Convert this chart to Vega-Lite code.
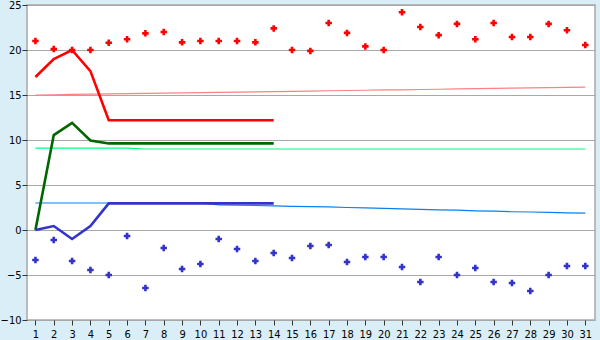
{
  "$schema": "https://vega.github.io/schema/vega-lite/v6.json",
  "width": 568,
  "height": 315,
  "autosize": {"type": "none"},
  "padding": {"left": 27, "top": 5, "right": 5, "bottom": 20},
  "background": "#d9eef6",
  "config": {
    "view": {"stroke": "#a8a8a8", "strokeWidth": 1.5, "fill": "white"},
    "axis": {"labelFont": "DejaVu Sans Condensed, Liberation Sans", "labelFontSize": 11, "labelColor": "#000000", "tickColor": "#333333", "tickSize": 5, "domain": false, "title": null}
  },
  "datasets": {
    "d": [
      {"d":1,"s":"hi","v":21},{"d":2,"s":"hi","v":20.1},{"d":3,"s":"hi","v":20},{"d":4,"s":"hi","v":20},{"d":5,"s":"hi","v":20.8},{"d":6,"s":"hi","v":21.2},{"d":7,"s":"hi","v":21.85},{"d":8,"s":"hi","v":22},{"d":9,"s":"hi","v":20.85},{"d":10,"s":"hi","v":21},{"d":11,"s":"hi","v":21},{"d":12,"s":"hi","v":21},{"d":13,"s":"hi","v":20.85},{"d":14,"s":"hi","v":22.4},{"d":15,"s":"hi","v":20},{"d":16,"s":"hi","v":19.9},{"d":17,"s":"hi","v":23},{"d":18,"s":"hi","v":21.9},{"d":19,"s":"hi","v":20.4},{"d":20,"s":"hi","v":20},{"d":21,"s":"hi","v":24.2},{"d":22,"s":"hi","v":22.55},{"d":23,"s":"hi","v":21.65},{"d":24,"s":"hi","v":22.9},{"d":25,"s":"hi","v":21.2},{"d":26,"s":"hi","v":23},{"d":27,"s":"hi","v":21.45},{"d":28,"s":"hi","v":21.45},{"d":29,"s":"hi","v":22.9},{"d":30,"s":"hi","v":22.2},{"d":31,"s":"hi","v":20.55},
      {"d":1,"s":"lo","v":-3.33},{"d":2,"s":"lo","v":-1.11},{"d":3,"s":"lo","v":-3.44},{"d":4,"s":"lo","v":-4.44},{"d":5,"s":"lo","v":-5},{"d":6,"s":"lo","v":-0.67},{"d":7,"s":"lo","v":-6.44},{"d":8,"s":"lo","v":-2},{"d":9,"s":"lo","v":-4.33},{"d":10,"s":"lo","v":-3.78},{"d":11,"s":"lo","v":-1},{"d":12,"s":"lo","v":-2.11},{"d":13,"s":"lo","v":-3.44},{"d":14,"s":"lo","v":-2.56},{"d":15,"s":"lo","v":-3.11},{"d":16,"s":"lo","v":-1.78},{"d":17,"s":"lo","v":-1.67},{"d":18,"s":"lo","v":-3.56},{"d":19,"s":"lo","v":-3},{"d":20,"s":"lo","v":-3},{"d":21,"s":"lo","v":-4.11},{"d":22,"s":"lo","v":-5.78},{"d":23,"s":"lo","v":-3},{"d":24,"s":"lo","v":-5},{"d":25,"s":"lo","v":-4.22},{"d":26,"s":"lo","v":-5.78},{"d":27,"s":"lo","v":-5.89},{"d":28,"s":"lo","v":-6.78},{"d":29,"s":"lo","v":-5},{"d":30,"s":"lo","v":-4},{"d":31,"s":"lo","v":-4},
      {"d":1,"s":"R","v":17},{"d":2,"s":"R","v":19},{"d":3,"s":"R","v":20},{"d":4,"s":"R","v":17.65},{"d":5,"s":"R","v":12.2},{"d":6,"s":"R","v":12.2},{"d":7,"s":"R","v":12.2},{"d":8,"s":"R","v":12.2},{"d":9,"s":"R","v":12.2},{"d":10,"s":"R","v":12.2},{"d":11,"s":"R","v":12.2},{"d":12,"s":"R","v":12.2},{"d":13,"s":"R","v":12.2},{"d":14,"s":"R","v":12.2},
      {"d":1,"s":"G","v":0},{"d":2,"s":"G","v":10.55},{"d":3,"s":"G","v":11.9},{"d":4,"s":"G","v":9.95},{"d":5,"s":"G","v":9.62},{"d":6,"s":"G","v":9.62},{"d":7,"s":"G","v":9.62},{"d":8,"s":"G","v":9.62},{"d":9,"s":"G","v":9.62},{"d":10,"s":"G","v":9.62},{"d":11,"s":"G","v":9.62},{"d":12,"s":"G","v":9.62},{"d":13,"s":"G","v":9.62},{"d":14,"s":"G","v":9.62},
      {"d":1,"s":"B","v":0},{"d":2,"s":"B","v":0.44},{"d":3,"s":"B","v":-1},{"d":4,"s":"B","v":0.44},{"d":5,"s":"B","v":2.96},{"d":6,"s":"B","v":2.96},{"d":7,"s":"B","v":2.96},{"d":8,"s":"B","v":2.96},{"d":9,"s":"B","v":2.96},{"d":10,"s":"B","v":2.96},{"d":11,"s":"B","v":2.96},{"d":12,"s":"B","v":2.96},{"d":13,"s":"B","v":2.96},{"d":14,"s":"B","v":2.96},
      {"d":1,"s":"tR","v":15},{"d":2,"s":"tR","v":15.03},{"d":3,"s":"tR","v":15.07},{"d":4,"s":"tR","v":15.1},{"d":5,"s":"tR","v":15.12},{"d":6,"s":"tR","v":15.15},{"d":7,"s":"tR","v":15.18},{"d":8,"s":"tR","v":15.21},{"d":9,"s":"tR","v":15.24},{"d":10,"s":"tR","v":15.27},{"d":11,"s":"tR","v":15.3},{"d":12,"s":"tR","v":15.33},{"d":13,"s":"tR","v":15.35},{"d":14,"s":"tR","v":15.38},{"d":15,"s":"tR","v":15.41},{"d":16,"s":"tR","v":15.44},{"d":17,"s":"tR","v":15.47},{"d":18,"s":"tR","v":15.5},{"d":19,"s":"tR","v":15.53},{"d":20,"s":"tR","v":15.56},{"d":21,"s":"tR","v":15.58},{"d":22,"s":"tR","v":15.61},{"d":23,"s":"tR","v":15.64},{"d":24,"s":"tR","v":15.67},{"d":25,"s":"tR","v":15.7},{"d":26,"s":"tR","v":15.73},{"d":27,"s":"tR","v":15.76},{"d":28,"s":"tR","v":15.79},{"d":29,"s":"tR","v":15.81},{"d":30,"s":"tR","v":15.84},{"d":31,"s":"tR","v":15.87},
      {"d":1,"s":"tG","v":9.1},{"d":6,"s":"tG","v":9.1},{"d":7,"s":"tG","v":9.0},{"d":31,"s":"tG","v":9.0},
      {"d":1,"s":"tB","v":3},{"d":10,"s":"tB","v":3},{"d":11,"s":"tB","v":2.8},{"d":12,"s":"tB","v":2.75},{"d":13,"s":"tB","v":2.72},{"d":14,"s":"tB","v":2.67},{"d":15,"s":"tB","v":2.63},{"d":16,"s":"tB","v":2.6},{"d":17,"s":"tB","v":2.56},{"d":18,"s":"tB","v":2.5},{"d":19,"s":"tB","v":2.45},{"d":20,"s":"tB","v":2.4},{"d":21,"s":"tB","v":2.34},{"d":22,"s":"tB","v":2.3},{"d":23,"s":"tB","v":2.24},{"d":24,"s":"tB","v":2.2},{"d":25,"s":"tB","v":2.13},{"d":26,"s":"tB","v":2.09},{"d":27,"s":"tB","v":2.03},{"d":28,"s":"tB","v":2.0},{"d":29,"s":"tB","v":1.96},{"d":30,"s":"tB","v":1.91},{"d":31,"s":"tB","v":1.88}
    ]
  },
  "data": {"name": "d"},
  "encoding": {
    "x": {"field": "d", "type": "quantitative", "scale": {"domain": [0.54, 31.53], "nice": false, "zero": false},
      "axis": {"values": [1,2,3,4,5,6,7,8,9,10,11,12,13,14,15,16,17,18,19,20,21,22,23,24,25,26,27,28,29,30,31], "grid": false, "labelPadding": 3}},
    "y": {"field": "v", "type": "quantitative", "scale": {"domain": [-10, 25], "nice": false, "zero": false},
      "axis": {"values": [-10,-5,0,5,10,15,20,25], "grid": true, "gridColor": "#a8a8a8", "gridWidth": 1, "labelPadding": 1}},
    "color": {"field": "s", "type": "nominal", "legend": null,
      "scale": {"domain": ["hi","lo","R","G","B","tR","tG","tB"], "range": ["#ff0000","#3333cc","#ff0000","#006600","#3333cc","#ff8080","#00ff80","#0a80f0"]}}
  },
  "layer": [
    {"transform": [{"filter": {"field": "s", "oneOf": ["tR","tG","tB"]}}], "mark": {"type": "line", "strokeWidth": 1.2}},
    {"transform": [{"filter": {"field": "s", "oneOf": ["R","G","B"]}}], "mark": {"type": "line", "strokeWidth": 2.6}},
    {"transform": [{"filter": {"field": "s", "oneOf": ["hi","lo"]}}], "mark": {"type": "point", "shape": "cross", "filled": true, "size": 42, "opacity": 1}}
  ]
}
